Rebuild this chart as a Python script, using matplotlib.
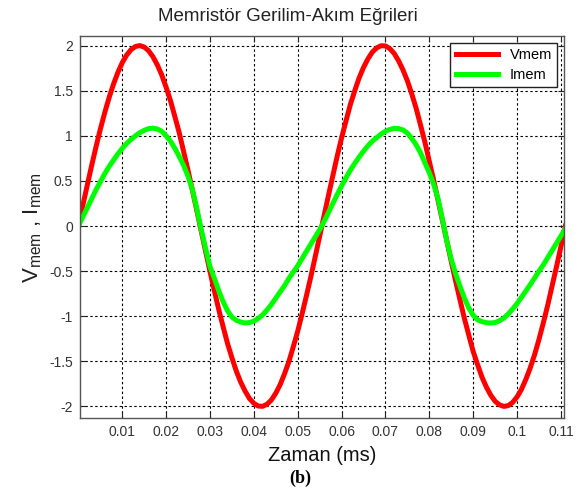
import matplotlib
matplotlib.use("Agg")
import matplotlib.pyplot as plt

plt.rcParams['font.family'] = ['Liberation Sans', 'DejaVu Sans']
plt.rcParams['mathtext.fontset'] = 'custom'
plt.rcParams['mathtext.rm'] = 'Liberation Sans'

# time axis (ms), one sample every 0.001 ms
t = [i * 0.001 for i in range(112)]

# memristor voltage
v_mem = [0.000, 0.226, 0.449, 0.666, 0.875, 1.073, 1.256, 1.424, 1.573, 1.703,
         1.811, 1.895, 1.955, 1.990, 2.000, 1.984, 1.943, 1.876, 1.785, 1.674,
         1.537, 1.388, 1.211, 1.031, 0.822, 0.614, 0.394, 0.170, -0.057, -0.282,
         -0.504, -0.720, -0.927, -1.119, -1.303, -1.462, -1.609, -1.731, -1.830, -1.913,
         -1.966, -1.996, -1.999, -1.976, -1.928, -1.853, -1.758, -1.636, -1.501, -1.336,
         -1.165, -0.972, -0.769, -0.559, -0.337, -0.113, 0.113, 0.338, 0.558, 0.776,
         0.978, 1.165, 1.348, 1.501, 1.643, 1.758, 1.853, 1.928, 1.975, 1.999,
         1.996, 1.966, 1.912, 1.830, 1.729, 1.609, 1.463, 1.303, 1.118, 0.927,
         0.715, 0.504, 0.280, 0.057, -0.169, -0.394, -0.612, -0.822, -1.027, -1.211,
         -1.392, -1.537, -1.676, -1.785, -1.876, -1.943, -1.983, -2.000, -1.991, -1.955,
         -1.894, -1.811, -1.700, -1.573, -1.425, -1.256, -1.070, -0.875, -0.660, -0.449,
         -0.226, 0.000]

# memristor current
i_mem = [0.00, 0.10, 0.20, 0.30, 0.40, 0.49, 0.58, 0.66, 0.73, 0.80,
         0.86, 0.915, 0.96, 1.00, 1.035, 1.06, 1.08, 1.085, 1.075, 1.05,
         1.00, 0.94, 0.86, 0.77, 0.67, 0.55, 0.40, 0.19, -0.04, -0.25,
         -0.45, -0.58, -0.72, -0.84, -0.94, -1.01, -1.045, -1.065, -1.075, -1.07,
         -1.055, -1.025, -0.985, -0.93, -0.87, -0.80, -0.73, -0.66, -0.58, -0.51,
         -0.44, -0.36, -0.28, -0.20, -0.12, -0.04, 0.05, 0.15, 0.25, 0.35,
         0.445, 0.535, 0.62, 0.695, 0.765, 0.83, 0.89, 0.94, 0.98, 1.02,
         1.05, 1.07, 1.083, 1.08, 1.065, 1.03, 0.97, 0.90, 0.81, 0.70,
         0.59, 0.46, 0.30, 0.07, -0.17, -0.37, -0.53, -0.67, -0.80, -0.91,
         -0.99, -1.04, -1.06, -1.072, -1.075, -1.07, -1.05, -1.02, -0.975, -0.92,
         -0.86, -0.79, -0.72, -0.65, -0.575, -0.50, -0.43, -0.35, -0.27, -0.19,
         -0.11, -0.03]

x_ticks = [0.01, 0.02, 0.03, 0.04, 0.05, 0.06, 0.07, 0.08, 0.09, 0.1, 0.11]
x_labels = ['0.01', '0.02', '0.03', '0.04', '0.05', '0.06', '0.07', '0.08', '0.09', '0.1', '0.11']
y_ticks = [-2, -1.5, -1, -0.5, 0, 0.5, 1, 1.5, 2]
y_labels = ['-2', '-1.5', '-1', '-0.5', '0', '0.5', '1', '1.5', '2']

fig = plt.figure(figsize=(5.8, 4.97), dpi=100)
ax = fig.add_axes([0.1379, 0.1583, 0.835, 0.7692])

ax.plot(t, v_mem, color='#ff0000', linewidth=3.6, label='Vmem', solid_joinstyle='round')
ax.plot(t, i_mem, color='#00ff00', linewidth=3.6, label='Imem', solid_joinstyle='round')

ax.set_xlim(0.00036, 0.11076)
ax.set_ylim(-2.132, 2.106)
ax.set_xticks(x_ticks)
ax.set_xticklabels(x_labels)
ax.set_yticks(y_ticks)
ax.set_yticklabels(y_labels)

ax.grid(True, color='black', linestyle=(0, (2.2, 2.2)), linewidth=0.8)
ax.tick_params(direction='in', length=4, width=0.8, top=True, right=True,
               labelsize=10, labelcolor='#333333', color='#222222', pad=5)
for s in ax.spines.values():
    s.set_color('#555555')
    s.set_linewidth(1.0)

leg = ax.legend(loc='upper right', fontsize=10.5, handlelength=2.9, fancybox=False,
                framealpha=1, edgecolor='#222222', borderpad=0.35, labelspacing=0.4,
                borderaxespad=0.5)
leg.get_frame().set_linewidth(1.0)

fig.text(0.497, 0.966, 'Memristör Gerilim-Akım Eğrileri', ha='center', va='center',
         fontsize=13.5, color='#222222')
ax.set_xlabel('Zaman (ms)', fontsize=14.5, color='#111111', labelpad=5)
ax.set_ylabel(r'V$_{\rm mem}$ , I$_{\rm mem}$', fontsize=16, color='#222222', labelpad=4)
fig.text(0.517, 0.038, '(b)', ha='center', va='center', fontsize=13, fontweight='bold',
         family='Liberation Serif')

fig.savefig('out.png', dpi=100, facecolor='white')
